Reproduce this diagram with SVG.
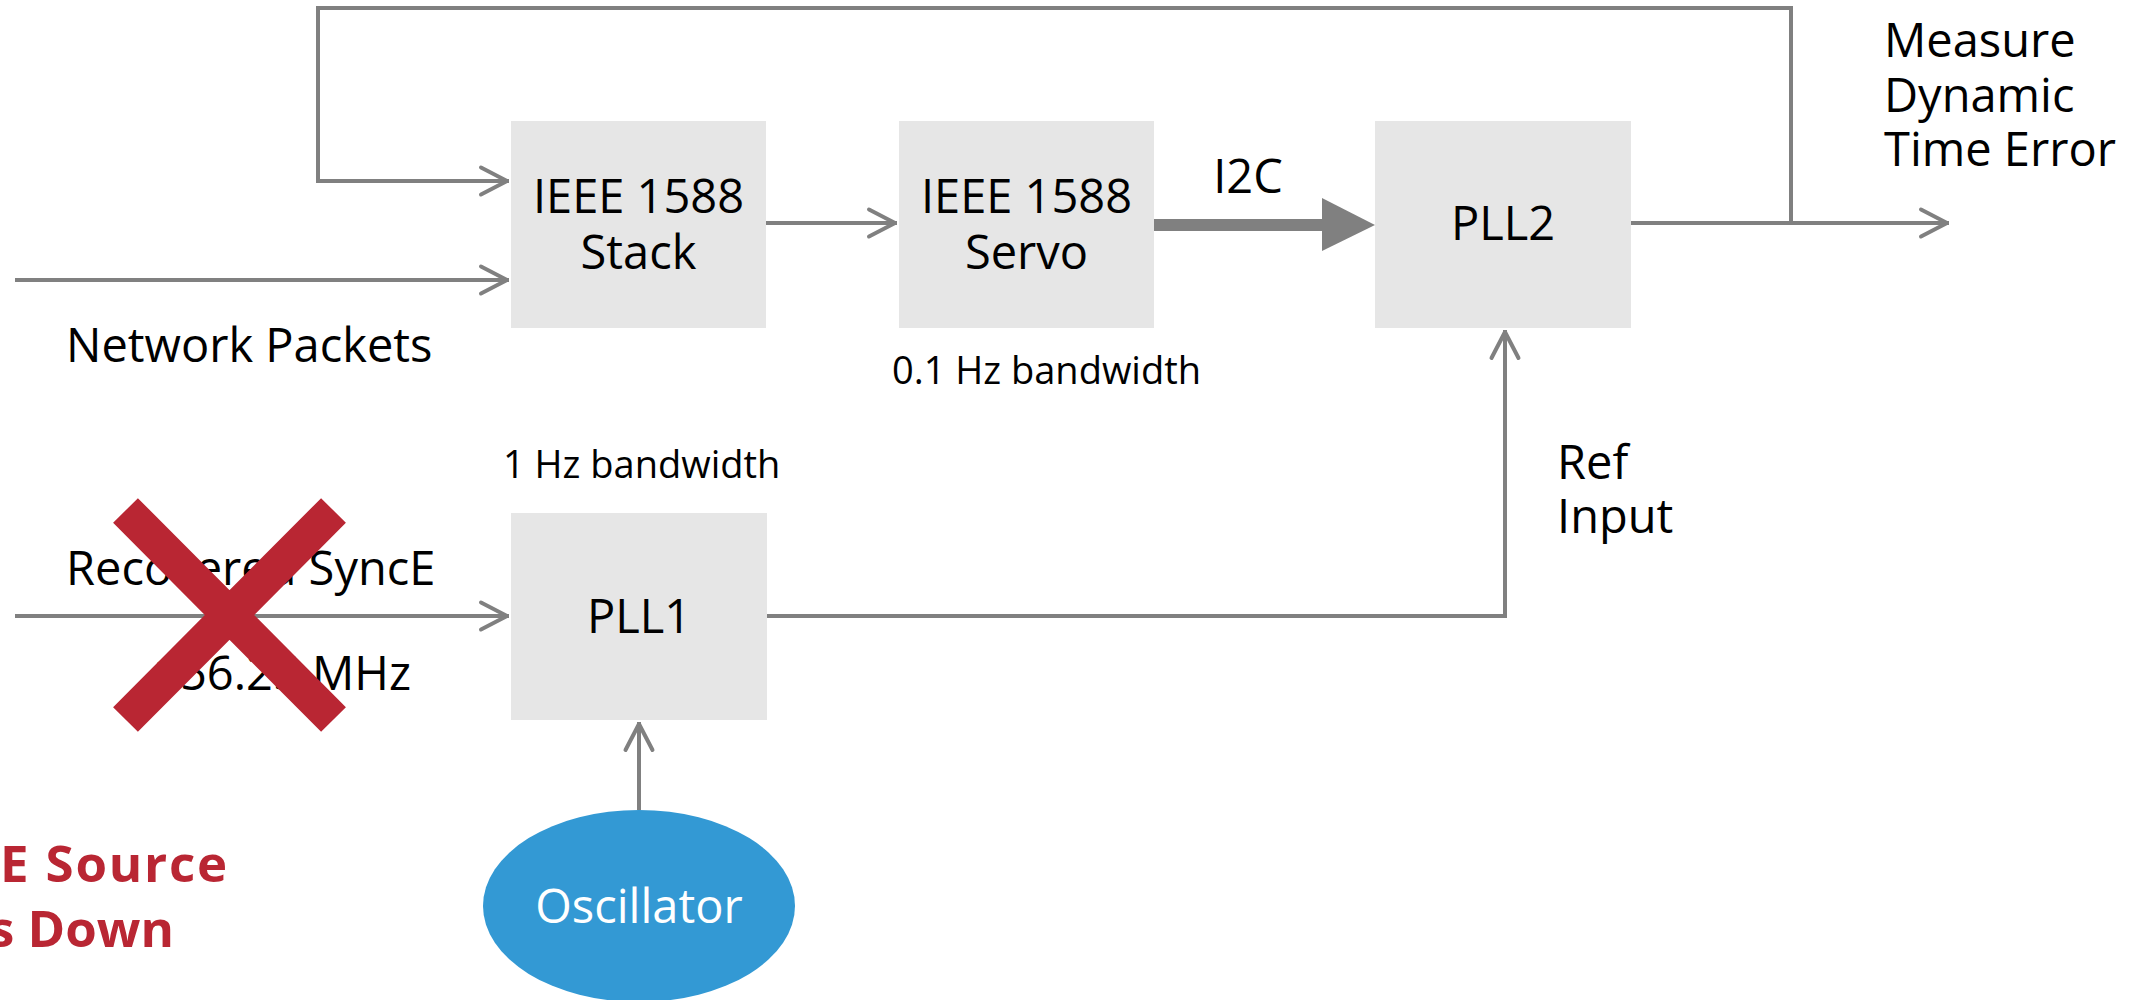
<svg xmlns="http://www.w3.org/2000/svg" width="2149" height="1000" viewBox="0 0 2149 1000">
<style>
.box{fill:#e6e6e6}
.t{font-family:"Open Sans","Noto Sans","Liberation Sans",sans-serif;font-size:47px;fill:#000}
.s{font-family:"Open Sans","Noto Sans","Liberation Sans",sans-serif;font-size:38px;fill:#000}
.c{text-anchor:middle}
.ln{fill:none;stroke:#808080;stroke-width:4}
.red{font-family:"Open Sans","Noto Sans","Liberation Sans",sans-serif;font-size:51px;font-weight:bold;fill:#b92633;text-anchor:end}
</style>
<defs>
<marker id="arr" markerUnits="userSpaceOnUse" orient="auto" overflow="visible" markerWidth="40" markerHeight="40" refX="0" refY="0">
<path d="M-28,-13.5 L-2,0 L-28,13.5" fill="none" stroke="#808080" stroke-width="4" stroke-linecap="round" stroke-linejoin="round"/>
</marker>
</defs>
<rect width="2149" height="1000" fill="#fff"/>
<g id="connectors">
<path class="ln" d="M1791,223 V8 H318 V181 H509" marker-end="url(#arr)"/>
<path class="ln" d="M15,280 H509" marker-end="url(#arr)"/>
<path class="ln" d="M766,223 H897" marker-end="url(#arr)"/>
<path class="ln" d="M1631,223 H1949" marker-end="url(#arr)"/>
<path class="ln" d="M15,616 H509" marker-end="url(#arr)"/>
<path class="ln" d="M766,616 H1505 V330" marker-end="url(#arr)"/>
<path class="ln" d="M639,810 V722" marker-end="url(#arr)"/>
<g id="i2c-arrow" fill="#808080">
<rect x="1154" y="219" width="169" height="12"/>
<polygon points="1322,198 1375,225 1322,251"/>
</g>
</g>
<g id="stack"><rect class="box" x="511" y="121" width="255" height="207"/>
<text class="t c" x="638.5" y="213">IEEE 1588</text><text class="t c" x="638.5" y="269">Stack</text></g>
<g id="servo"><rect class="box" x="899" y="121" width="255" height="207"/>
<text class="t c" x="1026.5" y="213">IEEE 1588</text><text class="t c" x="1026.5" y="269">Servo</text></g>
<g id="pll2"><rect class="box" x="1375" y="121" width="256" height="207"/>
<text class="t c" x="1503" y="240">PLL2</text></g>
<g id="pll1"><rect class="box" x="511" y="513" width="256" height="207"/>
<text class="t c" x="639" y="633">PLL1</text></g>
<g id="oscillator"><ellipse cx="639" cy="906" rx="156" ry="96" fill="#3399d4"/>
<text class="t c" x="639" y="923" style="fill:#fff">Oscillator</text></g>
<g id="labels">
<text class="t" x="66" y="362">Network Packets</text>
<text class="t" x="66" y="585">Recovered SyncE</text>
<text class="t" x="411" y="690" text-anchor="end">156.25 MHz</text>
<text class="t c" x="1248" y="193">I2C</text>
<text class="s" x="892" y="384">0.1 Hz bandwidth</text>
<text class="s" x="503" y="478">1 Hz bandwidth</text>
<text class="t" x="1884" y="57">Measure</text>
<text class="t" x="1884" y="112">Dynamic</text>
<text class="t" x="1884" y="166">Time Error</text>
<text class="t" x="1557" y="479">Ref</text>
<text class="t" x="1557" y="533">Input</text>
</g>
<g id="fail-mark">
<path d="M125.5,510.5 L333.5,719.5 M333.5,510.5 L125.5,719.5" stroke="#b92633" stroke-width="35" fill="none"/>
<text class="red" x="229" y="882" style="letter-spacing:1.8px">SyncE Source</text>
<text class="red" x="174" y="947">Goes Down</text>
</g>
</svg>
